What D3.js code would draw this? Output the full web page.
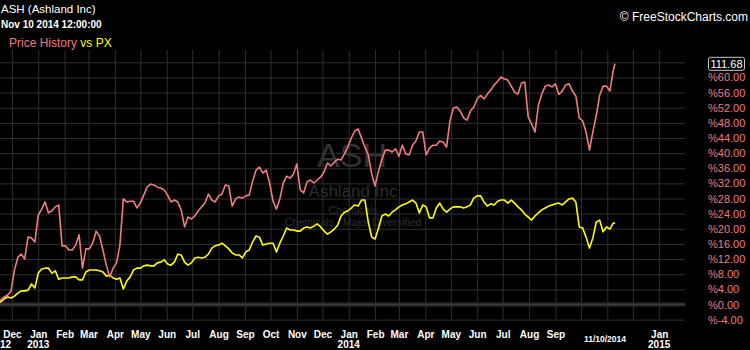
<!DOCTYPE html>
<html>
<head>
<meta charset="utf-8">
<script src="https://cdn.jsdelivr.net/npm/d3@7"></script>
<style>
  html, body { margin: 0; padding: 0; background: #000; }
  svg { display: block; }
</style>
</head>
<body>
<svg id="chart" width="750" height="350"></svg>
<script>
// ---------------- DATA ----------------
const dates = [
"2012-11-14","2012-11-18","2012-11-22","2012-11-26","2012-11-30","2012-12-04","2012-12-08","2012-12-12","2012-12-16","2012-12-20","2012-12-24","2012-12-28",
"2013-01-01","2013-01-05","2013-01-09","2013-01-13","2013-01-17","2013-01-21","2013-01-25","2013-01-29",
"2013-02-02","2013-02-06","2013-02-10","2013-02-14","2013-02-18","2013-02-22","2013-02-26",
"2013-03-02","2013-03-06","2013-03-10","2013-03-14","2013-03-18","2013-03-22","2013-03-26","2013-03-30",
"2013-04-03","2013-04-07","2013-04-11","2013-04-15","2013-04-19","2013-04-23","2013-04-27",
"2013-05-01","2013-05-05","2013-05-09","2013-05-13","2013-05-17","2013-05-21","2013-05-25","2013-05-29",
"2013-06-02","2013-06-06","2013-06-10","2013-06-14","2013-06-18","2013-06-22","2013-06-26","2013-06-30",
"2013-07-04","2013-07-08","2013-07-12","2013-07-16","2013-07-20","2013-07-24","2013-07-28",
"2013-08-01","2013-08-05","2013-08-09","2013-08-13","2013-08-17","2013-08-21","2013-08-25","2013-08-29",
"2013-09-02","2013-09-06","2013-09-10","2013-09-14","2013-09-18","2013-09-22","2013-09-26","2013-09-30",
"2013-10-04","2013-10-08","2013-10-12","2013-10-16","2013-10-20","2013-10-24","2013-10-28",
"2013-11-01","2013-11-05","2013-11-09","2013-11-13","2013-11-17","2013-11-21","2013-11-25","2013-11-29",
"2013-12-03","2013-12-07","2013-12-11","2013-12-15","2013-12-19","2013-12-23","2013-12-27","2013-12-31",
"2014-01-04","2014-01-08","2014-01-12","2014-01-16","2014-01-20","2014-01-24","2014-01-28",
"2014-02-01","2014-02-05","2014-02-09","2014-02-13","2014-02-17","2014-02-21","2014-02-25",
"2014-03-01","2014-03-05","2014-03-09","2014-03-13","2014-03-17","2014-03-21","2014-03-25","2014-03-29",
"2014-04-02","2014-04-06","2014-04-10","2014-04-14","2014-04-18","2014-04-22","2014-04-26","2014-04-30",
"2014-05-04","2014-05-08","2014-05-12","2014-05-16","2014-05-20","2014-05-24","2014-05-28",
"2014-06-01","2014-06-05","2014-06-09","2014-06-13","2014-06-17","2014-06-21","2014-06-25","2014-06-29",
"2014-07-03","2014-07-07","2014-07-11","2014-07-15","2014-07-19","2014-07-23","2014-07-27","2014-07-31",
"2014-08-04","2014-08-08","2014-08-12","2014-08-16","2014-08-20","2014-08-24","2014-08-28",
"2014-09-01","2014-09-05","2014-09-09","2014-09-13","2014-09-17","2014-09-21","2014-09-25","2014-09-29",
"2014-10-03","2014-10-07","2014-10-11","2014-10-15","2014-10-19","2014-10-23","2014-10-27","2014-10-31",
"2014-11-04","2014-11-08","2014-11-10"
];

// ASH price history, % change
const ashPct = [
0.5,1.2,2.0,2.5,3.6,9.1,12.5,13.3,12.0,17.8,17.6,16.5,
23.6,25.2,27.1,24.2,24.7,25.8,26.3,15.5,
15.5,14.4,14.4,15.7,18.4,9.6,14.7,
14.7,16.2,19.4,18.1,14.4,10.4,7.3,9.6,
11.0,15.7,27.9,27.1,27.3,27.3,25.5,
26.8,28.9,31.0,31.8,31.6,31.0,30.8,30.3,
28.9,27.1,27.6,27.1,25.0,20.5,23.1,22.6,
23.4,24.7,25.8,26.8,29.2,27.6,27.1,
28.7,29.2,31.6,31.3,26.0,27.9,28.4,28.1,
28.7,28.9,32.6,35.5,36.3,34.7,35.5,32.1,
27.3,25.2,27.9,32.1,33.9,33.4,34.4,
37.1,30.3,29.5,32.4,32.9,32.1,32.9,33.7,
35.0,37.4,36.6,37.6,38.4,38.2,39.8,41.6,
44.0,45.8,46.4,44.0,41.6,39.5,34.5,
31.3,35.3,38.4,40.8,40.8,40.3,41.1,
39.2,42.1,39.8,39.5,42.1,43.2,45.6,45.6,
39.5,41.3,42.1,42.1,43.2,42.9,41.6,48.5,
51.9,52.2,51.1,49.3,48.7,51.1,52.2,
54.3,55.3,54.3,55.6,56.7,58.0,59.0,60.1,
59.6,59.3,57.7,56.1,55.6,58.5,58.8,49.5,
47.7,45.6,52.7,55.6,57.7,58.0,57.5,
58.3,55.5,56.4,58.0,58.3,56.4,55.1,49.3,
48.5,45.6,40.8,45.6,49.8,55.3,57.7,57.7,
56.4,61.9,63.6
];

// PX, % change
const pxPct = [
0.4,0.7,1.5,2.0,1.7,2.2,3.0,3.6,3.6,3.8,5.4,4.4,
8.3,9.4,9.6,9.6,8.3,8.9,6.7,7.0,
7.0,7.0,7.3,7.3,6.5,6.5,8.6,
9.1,9.1,9.1,8.9,8.6,7.5,7.8,7.0,
6.7,7.0,4.1,6.2,7.3,9.1,9.6,
9.6,10.2,10.4,10.2,10.2,11.0,11.2,11.8,
10.7,10.4,11.2,13.3,13.1,11.2,10.4,11.0,
12.3,12.5,12.3,12.5,13.3,14.9,15.5,
15.7,16.2,15.5,14.7,13.6,13.1,13.1,12.3,
13.9,14.4,16.5,18.1,17.8,15.7,16.0,16.2,
16.2,13.9,16.2,18.1,20.2,19.7,19.7,
19.4,19.4,20.2,20.5,20.2,20.7,21.3,20.5,
19.4,18.6,19.2,19.9,21.0,23.4,24.4,24.7,
25.5,26.3,26.0,27.6,27.6,21.8,17.8,
17.3,20.2,23.4,23.9,23.4,24.4,25.0,
25.8,26.3,26.6,27.1,27.6,26.8,24.2,26.3,
25.8,22.9,22.9,25.5,26.8,25.2,24.4,25.2,
25.8,25.8,25.8,25.5,25.8,26.3,28.1,
28.7,28.7,27.1,26.0,26.6,26.3,27.3,27.6,
27.6,26.8,27.6,26.8,25.8,25.0,23.9,23.1,
22.3,23.4,24.2,25.0,25.5,26.0,26.3,
26.6,26.8,26.3,27.1,27.9,28.1,27.1,20.5,
20.2,17.8,14.9,17.6,21.8,22.3,19.2,20.5,
19.9,21.5,21.5
];

const lastPrice = "111.68";
const yTicks = [-4,0,4,8,12,16,20,24,28,32,36,40,44,48,52,56,60,64];
const monthTicks = ["2012-12-01","2013-01-01","2013-02-01","2013-03-01","2013-04-01","2013-05-01","2013-06-01",
  "2013-07-01","2013-08-01","2013-09-01","2013-10-01","2013-11-01","2013-12-01","2014-01-01","2014-02-01",
  "2014-03-01","2014-04-01","2014-05-01","2014-06-01","2014-07-01","2014-08-01","2014-09-01","2014-10-01",
  "2014-11-01","2014-12-01","2015-01-01"];
const monthLabels = ["Dec","Jan","Feb","Mar","Apr","May","Jun","Jul","Aug","Sep","Oct","Nov","Dec","Jan","Feb",
  "Mar","Apr","May","Jun","Jul","Aug","Sep","","","","Jan"];
const yearTickDates = ["2012-11-17","2013-01-01","2014-01-01","2015-01-01"];
const yearLabels = ["2012","2013","2014","2015"];

// ---------------- CHART ----------------
const svg = d3.select("#chart");
const W = 750, H = 350;
const plot = {left: 0, right: 685, top: 50, bottom: 321};
const parse = d3.timeParse("%Y-%m-%d");
const FONT = "'Liberation Sans', Arial, sans-serif";

svg.append("rect").attr("width", W).attr("height", H).attr("fill", "#000");

const x = d3.scaleTime()
  .domain([parse("2012-12-01"), parse("2015-01-01")])
  .range([11.9, 659.2]);
const y = d3.scaleLinear().domain([0, 64]).range([304.5, 62.3]);

// watermark
const wm = svg.append("g").attr("fill", "#2e2e2e").attr("text-anchor", "middle").style("font-family", FONT);
wm.append("text").attr("x", 352).attr("y", 167).style("font-size", "34px").attr("fill", "#323232").text("ASH");
wm.append("text").attr("x", 353).attr("y", 197).style("font-size", "17px").text("Ashland Inc");
wm.append("text").attr("x", 353).attr("y", 213.5).style("font-size", "10.5px").text("Chemicals");
wm.append("text").attr("x", 353).attr("y", 226).style("font-size", "10.5px").text("Chemicals - Major Diversified");

// horizontal gridlines + right labels (axis)
const yAxis = d3.axisRight(y)
  .tickValues(yTicks)
  .tickSize(plot.right)
  .tickPadding(23)
  .tickFormat(d => d === 64 ? "" : "%" + d.toFixed(2));
const gy = svg.append("g").call(yAxis);
gy.select(".domain").remove();
gy.selectAll(".tick line").attr("stroke", "#2f2f2f").attr("stroke-width", 1);
gy.selectAll(".tick text")
  .attr("fill", "#f27b7b")
  .style("font-family", FONT)
  .style("font-size", "11px");

// zero band
svg.append("line")
  .attr("x1", plot.left).attr("x2", plot.right)
  .attr("y1", y(0)).attr("y2", y(0))
  .attr("stroke", "#2c2c2c").attr("stroke-width", 4);
svg.append("line")
  .attr("x1", plot.left).attr("x2", plot.right)
  .attr("y1", y(0)).attr("y2", y(0))
  .attr("stroke", "#3a3a3a").attr("stroke-width", 1);

// vertical gridlines + month labels (axis)
const monthDates = monthTicks.map(parse);
const xAxis = d3.axisBottom(x)
  .tickValues(monthDates)
  .tickSize(-(plot.bottom - plot.top))
  .tickFormat((d, i) => monthLabels[i]);
const gx = svg.append("g").attr("transform", `translate(0,${plot.bottom})`).call(xAxis);
gx.select(".domain").remove();
gx.selectAll(".tick line").attr("stroke", "#2f2f2f");
gx.selectAll(".tick text")
  .attr("y", 17).attr("dy", 0)
  .attr("fill", "#fff")
  .style("font-family", FONT)
  .style("font-size", "10px")
  .style("font-weight", "bold");

// year labels
svg.append("g").selectAll("text")
  .data(yearLabels)
  .join("text")
  .attr("x", (d, i) => x(parse(yearTickDates[i])))
  .attr("y", 348)
  .attr("text-anchor", "middle")
  .attr("fill", "#fff")
  .style("font-family", FONT)
  .style("font-size", "10px")
  .style("font-weight", "bold")
  .text(d => d);

// last date label
const lastDate = parse(dates[dates.length - 1]);
svg.append("text")
  .attr("x", x(lastDate) - 10).attr("y", 342)
  .attr("text-anchor", "middle")
  .attr("fill", "#fff")
  .style("font-family", FONT)
  .style("font-size", "8.5px")
  .style("font-weight", "bold")
  .text(d3.timeFormat("%m/%d/%Y")(lastDate));

// clip
svg.append("clipPath").attr("id", "plotclip")
  .append("rect").attr("x", plot.left).attr("y", plot.top)
  .attr("width", plot.right - plot.left).attr("height", plot.bottom - plot.top);

const parsedDates = dates.map(parse);
const line = d3.line().x(d => x(d[0])).y(d => y(d[1]));

const lines = svg.append("g").attr("clip-path", "url(#plotclip)");
lines.append("path")
  .datum(parsedDates.map((d, i) => [d, pxPct[i]]))
  .attr("fill", "none").attr("stroke", "#ffff00").attr("stroke-width", 1.6)
  .attr("stroke-linejoin", "round").attr("d", line);
lines.append("path")
  .datum(parsedDates.map((d, i) => [d, ashPct[i]]))
  .attr("fill", "none").attr("stroke", "#f07c7c").attr("stroke-width", 1.6)
  .attr("stroke-linejoin", "round").attr("d", line);

// last price box
const lastY = y(ashPct[ashPct.length - 1]);
svg.append("rect")
  .attr("x", 708.5).attr("y", lastY - 6.5).attr("width", 36).attr("height", 13).attr("rx", 2)
  .attr("fill", "#000").attr("stroke", "#c8c8c8").attr("stroke-width", 1);
svg.append("text")
  .attr("x", 726.5).attr("y", lastY + 4)
  .attr("text-anchor", "middle").attr("fill", "#fff")
  .style("font-family", FONT).style("font-size", "11px")
  .text(lastPrice);

// header texts
svg.append("text").attr("x", 1).attr("y", 13)
  .attr("fill", "#fff").style("font-family", FONT).style("font-size", "11.5px")
  .text("ASH (Ashland Inc)");
svg.append("text").attr("x", 1).attr("y", 28)
  .attr("fill", "#fff").style("font-family", FONT).style("font-size", "10px").style("font-weight", "bold")
  .text("Nov 10 2014 12:00:00");
const leg = svg.append("text").attr("x", 9).attr("y", 47)
  .style("font-family", FONT).style("font-size", "12px");
leg.append("tspan").attr("fill", "#f07c7c").text("Price History ");
leg.append("tspan").attr("fill", "#ffff00").text("vs PX");
svg.append("text").attr("x", 748).attr("y", 21).attr("text-anchor", "end")
  .attr("fill", "#fff").style("font-family", FONT).style("font-size", "12px")
  .text("© FreeStockCharts.com");
</script>
</body>
</html>
